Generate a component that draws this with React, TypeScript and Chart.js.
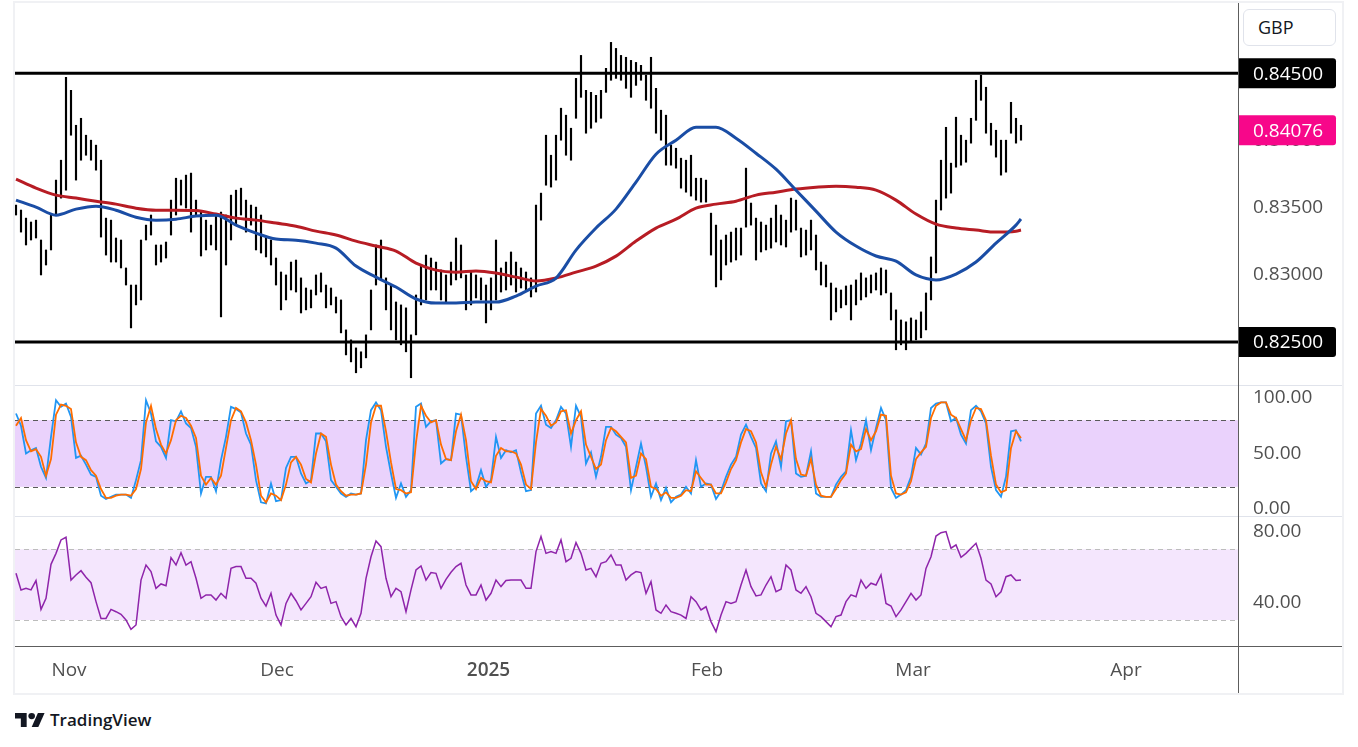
import React, { useEffect, useRef } from "react";
import { Chart, registerables } from "chart.js";

Chart.register(...registerables);

// ---------------- data ----------------
// price bars (two bars per trading day)
const barHigh = [
  0.83519, 0.83482, 0.83422, 0.83393, 0.83407, 0.83259, 0.83185, 0.83445, 0.83705, 0.83853,
  0.84470, 0.84373, 0.84113, 0.84165, 0.84039, 0.84002, 0.83965, 0.83853, 0.83422, 0.83407,
  0.83274, 0.83259, 0.83051, 0.82924, 0.82924, 0.83259, 0.83370, 0.83445, 0.83222, 0.83222,
  0.83244, 0.83556, 0.83719, 0.83705, 0.83742, 0.83757, 0.83556, 0.83467, 0.83407, 0.83370,
  0.83445, 0.83467, 0.83445, 0.83593, 0.83630, 0.83645, 0.83556, 0.83519, 0.83504, 0.83445,
  0.83281, 0.83259, 0.83125, 0.83021, 0.82999, 0.83095, 0.83110, 0.82977, 0.82902, 0.82887,
  0.82999, 0.83014, 0.82924, 0.82902, 0.82835, 0.82813, 0.82590, 0.82516, 0.82456, 0.82427,
  0.82553, 0.82887, 0.83222, 0.83259, 0.82977, 0.82924, 0.82798, 0.82776, 0.82754, 0.82553,
  0.82850, 0.83073, 0.83147, 0.83125, 0.83095, 0.83036, 0.82999, 0.83095, 0.83274, 0.83222,
  0.82999, 0.83021, 0.82999, 0.82977, 0.82924, 0.82977, 0.83259, 0.83051, 0.83095, 0.83170,
  0.83095, 0.83051, 0.83021, 0.82977, 0.83519, 0.83608, 0.84039, 0.83890, 0.84039, 0.84240,
  0.84188, 0.84091, 0.84462, 0.84633, 0.84373, 0.84358, 0.84336, 0.84373, 0.84537, 0.84730,
  0.84685, 0.84633, 0.84619, 0.84596, 0.84581, 0.84559, 0.84485, 0.84619, 0.84388, 0.84225,
  0.84188, 0.83965, 0.83942, 0.83868, 0.83853, 0.83890, 0.83719, 0.83719, 0.83705, 0.83459,
  0.83370, 0.83259, 0.83296, 0.83318, 0.83348, 0.83348, 0.83794, 0.83534, 0.83422, 0.83393,
  0.83370, 0.83422, 0.83519, 0.83445, 0.83407, 0.83571, 0.83556, 0.83348, 0.83333, 0.83407,
  0.83296, 0.83095, 0.83073, 0.82939, 0.82902, 0.82887, 0.82917, 0.82924, 0.82962, 0.83014,
  0.82977, 0.82999, 0.83014, 0.83051, 0.83036, 0.82865, 0.82739, 0.82664, 0.82650, 0.82679,
  0.82664, 0.82724, 0.82865, 0.83133, 0.83556, 0.83853, 0.84098, 0.83831, 0.84173, 0.84039,
  0.84002, 0.84165, 0.84448, 0.84485, 0.84396, 0.84128, 0.84076, 0.84002, 0.84002, 0.84284,
  0.84165, 0.84113,
];
const barLow = [
  0.83445, 0.83318, 0.83222, 0.83259, 0.83274, 0.82999, 0.83073, 0.83185, 0.83445, 0.83571,
  0.83630, 0.84039, 0.83705, 0.83853, 0.83890, 0.83853, 0.83779, 0.83281, 0.83147, 0.83095,
  0.83095, 0.83051, 0.82924, 0.82605, 0.82776, 0.82813, 0.83259, 0.83296, 0.83073, 0.83095,
  0.83125, 0.83296, 0.83445, 0.83519, 0.83497, 0.83318, 0.83445, 0.83140, 0.83185, 0.83222,
  0.83185, 0.82687, 0.83073, 0.83259, 0.83370, 0.83445, 0.83318, 0.83370, 0.83185, 0.83162,
  0.83133, 0.83073, 0.82924, 0.82739, 0.82813, 0.82887, 0.82872, 0.82716, 0.82739, 0.82754,
  0.82850, 0.82872, 0.82754, 0.82776, 0.82716, 0.82568, 0.82404, 0.82352, 0.82271, 0.82308,
  0.82382, 0.82590, 0.82924, 0.82962, 0.82739, 0.82590, 0.82516, 0.82479, 0.82427, 0.82234,
  0.82553, 0.82776, 0.82813, 0.82887, 0.82887, 0.82813, 0.82791, 0.82924, 0.82962, 0.82977,
  0.82739, 0.82776, 0.82828, 0.82813, 0.82642, 0.82739, 0.82813, 0.82872, 0.82887, 0.82924,
  0.82872, 0.82902, 0.82887, 0.82835, 0.82872, 0.83407, 0.83667, 0.83653, 0.83705, 0.84002,
  0.83890, 0.83853, 0.84165, 0.84321, 0.84054, 0.84091, 0.84136, 0.84165, 0.84358, 0.84448,
  0.84462, 0.84448, 0.84388, 0.84321, 0.84410, 0.84448, 0.84299, 0.84240, 0.84054, 0.84002,
  0.83816, 0.83816, 0.83794, 0.83645, 0.83615, 0.83586, 0.83556, 0.83541, 0.83541, 0.83147,
  0.82910, 0.82962, 0.83073, 0.83095, 0.83110, 0.83147, 0.83355, 0.83370, 0.83110, 0.83170,
  0.83185, 0.83199, 0.83244, 0.83222, 0.83207, 0.83318, 0.83333, 0.83133, 0.83147, 0.83185,
  0.83036, 0.82924, 0.82910, 0.82664, 0.82724, 0.82754, 0.82776, 0.82664, 0.82776, 0.82813,
  0.82835, 0.82865, 0.82887, 0.82850, 0.82865, 0.82664, 0.82442, 0.82479, 0.82442, 0.82501,
  0.82516, 0.82531, 0.82590, 0.82813, 0.83014, 0.83482, 0.83571, 0.83608, 0.83801, 0.83816,
  0.83838, 0.83980, 0.84150, 0.84299, 0.84054, 0.83965, 0.83876, 0.83742, 0.83764, 0.84054,
  0.83980, 0.84002,
];

// moving averages, one reading every 4 bars (last reading on the final bar)
const MA_STEP = 4;
const maBlue = [
  0.83556, 0.83504, 0.83444, 0.83489, 0.83511, 0.83481, 0.83429, 0.83407, 0.83414, 0.83437,
  0.83444, 0.83370, 0.83310, 0.83266, 0.83258, 0.83236, 0.83199, 0.83065, 0.82983, 0.82909,
  0.82820, 0.82790, 0.82790, 0.82797, 0.82797, 0.82842, 0.82916, 0.82976, 0.83184, 0.83348,
  0.83489, 0.83690, 0.83898, 0.84002, 0.84099, 0.84099, 0.84017, 0.83905, 0.83786, 0.83630,
  0.83474, 0.83318, 0.83214, 0.83140, 0.83102, 0.82999, 0.82962, 0.83006, 0.83095, 0.83236,
  0.83370, 0.83415,
];
const maRed = [
  0.83712, 0.83645, 0.83593, 0.83571, 0.83548, 0.83526, 0.83496, 0.83481, 0.83481, 0.83478,
  0.83452, 0.83422, 0.83407, 0.83385, 0.83362, 0.83325, 0.83296, 0.83251, 0.83214, 0.83177,
  0.83087, 0.83035, 0.83020, 0.83028, 0.83013, 0.82983, 0.82954, 0.82976, 0.83020, 0.83065,
  0.83139, 0.83251, 0.83348, 0.83414, 0.83496, 0.83526, 0.83548, 0.83593, 0.83615, 0.83638,
  0.83652, 0.83660, 0.83652, 0.83630, 0.83556, 0.83452, 0.83377, 0.83348, 0.83333, 0.83318,
  0.83325, 0.83333,
];

const stochK = [
  86, 75, 50, 53, 55, 38, 28, 65, 98, 92,
  95, 83, 46, 48, 40, 31, 29, 12, 9, 11,
  13, 13, 13, 10, 26, 44, 98, 86, 61, 56,
  46, 80, 79, 88, 77, 73, 56, 14, 29, 29,
  16, 44, 65, 92, 90, 87, 68, 58, 26, 6,
  5, 23, 7, 8, 37, 47, 47, 32, 23, 26,
  68, 68, 61, 26, 20, 14, 11, 14, 13, 14,
  62, 89, 96, 89, 56, 32, 10, 23, 11, 17,
  92, 95, 74, 79, 80, 41, 45, 44, 86, 85,
  47, 16, 20, 35, 20, 26, 65, 46, 53, 51,
  53, 33, 16, 17, 86, 93, 76, 73, 80, 92,
  86, 56, 93, 83, 41, 51, 29, 47, 74, 74,
  67, 64, 56, 17, 38, 59, 38, 11, 23, 8,
  19, 6, 11, 13, 20, 14, 44, 20, 23, 22,
  9, 16, 29, 40, 47, 67, 76, 65, 55, 23,
  16, 50, 61, 38, 79, 80, 32, 29, 30, 52,
  14, 11, 11, 11, 22, 29, 34, 71, 44, 59,
  80, 53, 73, 91, 80, 19, 10, 13, 17, 29,
  55, 49, 59, 91, 95, 96, 96, 79, 82, 67,
  59, 89, 93, 88, 77, 38, 17, 11, 29, 70,
  71, 61,
];
const stochD = [
  75, 82, 62, 52, 54, 47, 30, 45, 85, 94,
  93, 90, 60, 47, 44, 35, 30, 18, 10, 10,
  12, 13, 13, 12, 18, 36, 78, 93, 72, 58,
  50, 62, 80, 84, 82, 75, 64, 30, 22, 28,
  22, 30, 55, 80, 91, 88, 78, 62, 40, 12,
  6, 14, 12, 8, 22, 42, 47, 40, 27, 24,
  50, 68, 65, 40, 22, 16, 12, 13, 13, 14,
  40, 78, 93, 93, 70, 42, 18, 17, 14, 15,
  60, 93, 84, 78, 80, 58, 45, 44, 70, 85,
  62, 25, 18, 28, 25, 24, 48, 55, 52, 52,
  50, 40, 22, 18, 60, 90, 84, 75, 78, 88,
  89, 68, 80, 88, 58, 47, 36, 40, 62, 73,
  70, 65, 60, 28, 30, 50, 45, 20, 18, 12,
  15, 10, 10, 12, 17, 16, 34, 28, 22, 22,
  14, 14, 24, 36, 44, 60, 72, 70, 60, 33,
  20, 40, 56, 45, 68, 80, 45, 31, 30, 45,
  22, 12, 11, 11, 18, 26, 32, 58, 52, 54,
  72, 62, 70, 85, 84, 30, 14, 13, 15, 25,
  45, 51, 56, 82, 93, 96, 96, 85, 82, 72,
  62, 80, 91, 90, 80, 48, 22, 15, 17, 55,
  70, 64,
];
const rsiValues = [
  56.4, 47.0, 47.9, 47.0, 52.3, 36.0, 42.3, 61.5, 67.7, 75.3,
  76.8, 52.6, 55.5, 57.9, 54.2, 51.1, 40.4, 30.9, 30.9, 36.0,
  34.7, 33.2, 30.0, 24.7, 27.2, 52.6, 61.1, 57.4, 47.9, 50.4,
  49.4, 65.3, 61.1, 68.1, 61.1, 63.0, 53.6, 42.3, 44.2, 44.2,
  41.3, 45.1, 42.3, 59.2, 60.2, 60.2, 53.6, 53.6, 50.8, 42.3,
  37.9, 45.1, 32.8, 27.2, 39.4, 45.1, 40.9, 35.7, 39.4, 43.2,
  51.3, 47.9, 48.9, 39.4, 40.4, 31.9, 27.2, 30.9, 26.2, 33.8,
  53.6, 65.8, 74.7, 71.5, 53.6, 43.2, 47.9, 46.0, 34.7, 47.0,
  58.3, 60.6, 52.6, 56.8, 56.4, 47.9, 53.0, 57.0, 60.2, 62.1,
  49.8, 44.2, 44.2, 49.8, 41.3, 45.1, 52.6, 48.9, 52.3, 52.6,
  52.6, 52.6, 47.9, 47.9, 68.7, 77.2, 67.7, 68.7, 67.7, 75.3,
  63.0, 64.9, 73.8, 67.7, 58.3, 59.2, 54.5, 62.1, 63.0, 66.8,
  61.1, 61.1, 52.6, 55.5, 57.4, 56.8, 45.1, 51.7, 35.7, 33.8,
  38.5, 34.7, 33.8, 32.8, 30.9, 43.2, 40.4, 35.7, 37.5, 29.1,
  23.4, 32.8, 40.4, 39.4, 40.4, 49.8, 58.3, 48.9, 43.6, 44.2,
  49.8, 54.5, 46.0, 47.4, 61.1, 58.3, 47.0, 45.1, 48.9, 43.2,
  33.8, 31.9, 29.1, 26.2, 31.9, 32.8, 40.4, 44.2, 43.2, 52.6,
  47.9, 50.8, 49.8, 55.5, 39.4, 37.9, 31.9, 35.7, 40.4, 45.1,
  41.3, 44.2, 59.2, 65.8, 77.5, 79.4, 80.0, 70.6, 72.5, 65.5,
  67.7, 70.6, 73.4, 64.9, 52.6, 50.4, 43.2, 46.0, 54.5, 55.5,
  52.3, 52.6,
];

// time axis: bar-index position of each month label
const monthTickPos = [10.6, 52.2, 94.5, 138.2, 179.4, 222];
const monthTickLabels = ["Nov", "Dec", "2025", "Feb", "Mar", "Apr"];

const priceTicks = [0.825, 0.83, 0.835, 0.84, 0.845];
const stochTicks = [0, 50, 100];
const rsiTicks = [40, 80];
const levelLines = [0.845, 0.825];
const lastPrice = 0.84076;
const stochBand = [20, 80];
const rsiBand = [30, 70];

// ---------------- layout / style ----------------
const FONT = '"Open Sans", "Noto Sans", sans-serif';
const AXIS_TEXT = "#505050";
const W = 1358;
const AXIS_W = 105;
const PAD_L = 15;
const PAD_R = 15;
const X_MIN = -0.2;
const X_MAX = 244.4;

const hiddenX = {
  type: "linear",
  min: X_MIN,
  max: X_MAX,
  offset: false,
  display: false,
};

function yAxis(min: number, max: number, ticks: number[], digits: number) {
  return {
    type: "linear",
    position: "right",
    min,
    max,
    grid: { display: false, drawTicks: false },
    border: { display: false },
    afterBuildTicks: (s: any) => {
      s.ticks = ticks.map((v) => ({ value: v }));
    },
    afterFit: (s: any) => {
      s.width = AXIS_W;
      s.paddingTop = 0;
      s.paddingBottom = 0;
    },
    ticks: {
      autoSkip: false,
      padding: 15,
      color: AXIS_TEXT,
      font: { family: FONT, size: 19 },
      callback: (v: any) => Number(v).toFixed(digits),
    },
  };
}

const baseOptions = (padTop: number, padBottom: number) => ({
  responsive: false,
  maintainAspectRatio: false,
  animation: false,
  events: [],
  layout: { padding: { left: PAD_L, right: PAD_R, top: padTop, bottom: padBottom } },
  plugins: { legend: { display: false }, tooltip: { enabled: false } },
});

const pricePlugin = {
  id: "priceDecor",
  afterDatasetsDraw(chart: any) {
    const { ctx, chartArea: a, scales } = chart;
    ctx.save();
    ctx.strokeStyle = "#000000";
    ctx.lineWidth = 3;
    for (const v of levelLines) {
      const y = scales.y.getPixelForValue(v);
      ctx.beginPath();
      ctx.moveTo(a.left, y);
      ctx.lineTo(a.right, y);
      ctx.stroke();
    }
    ctx.restore();
  },
  afterDraw(chart: any) {
    const { ctx, chartArea: a, scales } = chart;
    const tags = [
      ...levelLines.map((v) => ({ v, bg: "#000000" })),
      { v: lastPrice, bg: "#f7078a" },
    ];
    ctx.save();
    ctx.font = `19px ${FONT}`;
    ctx.textBaseline = "middle";
    ctx.textAlign = "left";
    for (const t of tags) {
      const y = scales.y.getPixelForValue(t.v);
      ctx.fillStyle = t.bg;
      ctx.beginPath();
      ctx.roundRect(a.right, y - 15, 98, 30, [0, 3, 3, 0]);
      ctx.fill();
      ctx.fillStyle = "#ffffff";
      ctx.fillText(t.v.toFixed(5), a.right + 15, y + 1);
    }
    ctx.restore();
  },
};

function bandPlugin(id: string, band: number[], fill: string, dash: string) {
  return {
    id,
    beforeDatasetsDraw(chart: any) {
      const { ctx, chartArea: a, scales } = chart;
      const yLo = scales.y.getPixelForValue(band[0]);
      const yHi = scales.y.getPixelForValue(band[1]);
      ctx.save();
      ctx.fillStyle = fill;
      ctx.fillRect(a.left, yHi, a.right - a.left, yLo - yHi);
      ctx.strokeStyle = dash;
      ctx.lineWidth = 1;
      ctx.setLineDash([5, 4]);
      for (const y of [yLo, yHi]) {
        const yy = Math.round(y) + 0.5;
        ctx.beginPath();
        ctx.moveTo(a.left, yy);
        ctx.lineTo(a.right, yy);
        ctx.stroke();
      }
      ctx.restore();
    },
  };
}

const series = (arr: number[]) => arr.map((v, i) => ({ x: i, y: v }));
const maSeries = (arr: number[]) =>
  arr.map((v, k) => ({ x: Math.min(k * MA_STEP, barHigh.length - 1), y: v }));

export default function App() {
  const priceRef = useRef<HTMLCanvasElement>(null);
  const stochRef = useRef<HTMLCanvasElement>(null);
  const rsiRef = useRef<HTMLCanvasElement>(null);

  useEffect(() => {
    const charts: Chart[] = [];

    charts.push(
      new Chart(priceRef.current as HTMLCanvasElement, {
        type: "bar",
        data: {
          datasets: [
            {
              type: "line",
              data: maSeries(maRed),
              borderColor: "#b71c24",
              borderWidth: 3,
              pointRadius: 0,
              cubicInterpolationMode: "monotone",
              order: 2,
            },
            {
              type: "line",
              data: maSeries(maBlue),
              borderColor: "#1a4da5",
              borderWidth: 3,
              pointRadius: 0,
              cubicInterpolationMode: "monotone",
              order: 1,
            },
            {
              type: "bar",
              data: barHigh.map((h, i) => ({ x: i, y: [barLow[i], h] })),
              backgroundColor: "#000000",
              borderWidth: 0,
              barThickness: 1.5,
              grouped: false,
              order: 3,
            },
          ],
        } as any,
        options: {
          ...baseOptions(3, 1),
          scales: {
            x: hiddenX,
            y: yAxis(0.8218, 0.85023, priceTicks, 5),
          },
        } as any,
        plugins: [pricePlugin],
      })
    );

    charts.push(
      new Chart(stochRef.current as HTMLCanvasElement, {
        type: "line",
        data: {
          datasets: [
            {
              data: series(stochD),
              borderColor: "#ff6d00",
              borderWidth: 1.8,
              pointRadius: 0,
              order: 0,
            },
            {
              data: series(stochK),
              borderColor: "#2196f3",
              borderWidth: 1.8,
              pointRadius: 0,
              order: 1,
            },
          ],
        } as any,
        options: {
          ...baseOptions(0, 0),
          scales: {
            x: hiddenX,
            y: yAxis(-6.3, 110.8, stochTicks, 2),
          },
        } as any,
        plugins: [bandPlugin("stochBand", stochBand, "#ead2fc", "#5a5a5a")],
      })
    );

    charts.push(
      new Chart(rsiRef.current as HTMLCanvasElement, {
        type: "line",
        data: {
          datasets: [
            {
              data: series(rsiValues),
              borderColor: "#8e24aa",
              borderWidth: 1.5,
              pointRadius: 0,
            },
          ],
        } as any,
        options: {
          ...baseOptions(1, 0),
          scales: {
            x: {
              type: "linear",
              position: "bottom",
              min: X_MIN,
              max: X_MAX,
              offset: false,
              grid: { display: false, drawTicks: false },
              border: { display: false },
              afterBuildTicks: (s: any) => {
                s.ticks = monthTickPos.map((v) => ({ value: v }));
              },
              afterFit: (s: any) => {
                s.height = 48;
                s.paddingLeft = 0;
                s.paddingRight = 0;
              },
              ticks: {
                autoSkip: false,
                maxRotation: 0,
                minRotation: 0,
                padding: 13,
                color: AXIS_TEXT,
                font: (c: any) => ({
                  family: FONT,
                  size: 19,
                  weight: monthTickLabels[c.index] === "2025" ? "600" : "400",
                }),
                callback: (v: any, idx: number) => monthTickLabels[idx],
              },
            },
            y: yAxis(15.3, 87.7, rsiTicks, 2),
          },
        } as any,
        plugins: [bandPlugin("rsiBand", rsiBand, "#f4e6fd", "#bdbdbd")],
      })
    );

    return () => charts.forEach((c) => c.destroy());
  }, []);

  const abs = (style: React.CSSProperties): React.CSSProperties => ({
    position: "absolute",
    ...style,
  });

  return (
    <div
      style={{
        position: "fixed",
        left: 0,
        top: 0,
        width: W,
        height: 747,
        background: "#ffffff",
        overflow: "hidden",
        fontFamily: FONT,
      }}
    >
      <canvas ref={priceRef} width={W} height={386} style={abs({ left: 0, top: 0, width: W, height: 386 })} />
      <canvas ref={stochRef} width={W} height={130} style={abs({ left: 0, top: 386, width: W, height: 130 })} />
      <canvas ref={rsiRef} width={W} height={177} style={abs({ left: 0, top: 517, width: W, height: 177 })} />

      {/* frame and pane separators */}
      <div style={abs({ left: 13, top: 1, width: 1331, height: 694, border: "2px solid #f0f1f4", boxSizing: "border-box" })} />
      <div style={abs({ left: 15, top: 385, width: 1327, height: 1, background: "#e0e3eb" })} />
      <div style={abs({ left: 15, top: 516, width: 1327, height: 1, background: "#e0e3eb" })} />
      <div style={abs({ left: 15, top: 646, width: 1327, height: 1, background: "#5d5d5d" })} />
      <div style={abs({ left: 1238, top: 3, width: 1, height: 690, background: "#5d5d5d" })} />

      {/* currency badge */}
      <div
        style={abs({
          left: 1243,
          top: 9,
          width: 93,
          height: 37,
          boxSizing: "border-box",
          border: "1px solid #e0e3eb",
          borderRadius: 6,
          background: "#ffffff",
          paddingLeft: 14,
          lineHeight: "35px",
          fontSize: 18,
          color: "#131722",
        })}
      >
        GBP
      </div>

      {/* logo */}
      <svg style={abs({ left: 15, top: 713 })} width={30} height={14} viewBox="0 4 36 18" preserveAspectRatio="none">
        <path d="M14 22H7V11H0V4h14v18z" fill="#131722" />
        <circle cx="20" cy="8" r="4" fill="#131722" />
        <path d="M28 22h-8l7.5-18h8L28 22z" fill="#131722" />
      </svg>
      <div style={abs({ left: 50, top: 710, lineHeight: "20px", fontSize: 17, fontWeight: 600, color: "#131722" })}>
        TradingView
      </div>
    </div>
  );
}
